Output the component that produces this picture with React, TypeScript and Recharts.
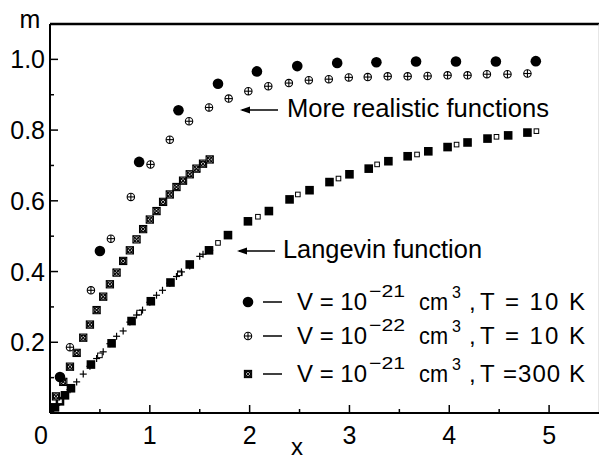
import React from "react";
import {
  ScatterChart,
  Scatter,
  XAxis,
  YAxis,
  ReferenceLine,
} from "recharts";

// V = 1e-21 cm3, T = 10 K (filled circles)
const circleX = [0.1, 0.5, 0.893, 1.287, 1.683, 2.073, 2.477, 2.877, 3.27, 3.667, 4.067, 4.467, 4.867];
const circleM = [0.102, 0.458, 0.71, 0.856, 0.931, 0.966, 0.981, 0.99, 0.992, 0.994, 0.994, 0.994, 0.995];

// V = 1e-22 cm3, T = 10 K (circle with plus)
const plusCircleX = [0.2, 0.41, 0.61, 0.81, 1.007, 1.2, 1.393, 1.593, 1.79, 1.987, 2.187, 2.393, 2.593, 2.793, 2.993, 3.183, 3.383, 3.583, 3.783, 3.983, 4.183, 4.377, 4.583, 4.783];
const plusCircleM = [0.186, 0.347, 0.493, 0.611, 0.703, 0.773, 0.825, 0.864, 0.889, 0.91, 0.924, 0.933, 0.941, 0.944, 0.949, 0.95, 0.952, 0.952, 0.953, 0.955, 0.955, 0.958, 0.958, 0.96];

// V = 1e-21 cm3, T = 300 K (crossed square)
const crossX = [0.06, 0.133, 0.2, 0.267, 0.333, 0.4, 0.467, 0.533, 0.6, 0.667, 0.733, 0.8, 0.867, 0.933, 1.0, 1.067, 1.133, 1.2, 1.267, 1.333, 1.4, 1.467, 1.533, 1.6];
const crossM = [0.047, 0.088, 0.131, 0.17, 0.213, 0.25, 0.291, 0.329, 0.364, 0.397, 0.43, 0.46, 0.491, 0.52, 0.547, 0.571, 0.597, 0.618, 0.639, 0.657, 0.675, 0.691, 0.705, 0.717];

// Langevin function points
const bigSqX = [0, 0.05, 0.1, 0.15, 0.21, 0.41, 0.617, 0.817, 1.01, 1.207, 1.4, 1.593, 1.783, 1.983, 2.193, 2.4, 2.6, 2.8, 3.0, 3.193, 3.39, 3.583, 3.79, 3.983, 4.183, 4.383, 4.59, 4.783];
const bigSqM = [0, 0.016, 0.033, 0.05, 0.07, 0.137, 0.197, 0.26, 0.316, 0.369, 0.42, 0.46, 0.503, 0.542, 0.571, 0.604, 0.63, 0.653, 0.675, 0.691, 0.712, 0.726, 0.74, 0.752, 0.765, 0.776, 0.785, 0.793];

const openSqX = [0.1, 0.5, 0.893, 1.3, 1.683, 2.083, 2.483, 2.89, 3.277, 3.677, 4.073, 4.473, 4.873];
const openSqM = [0.033, 0.163, 0.284, 0.395, 0.481, 0.555, 0.618, 0.663, 0.703, 0.731, 0.759, 0.781, 0.797];

const smallPlusX = [0.067, 0.133, 0.2, 0.267, 0.333, 0.4, 0.467, 0.533, 0.6, 0.667, 0.733, 0.8, 0.867, 0.927, 1.0, 1.067, 1.127, 1.2, 1.267, 1.317, 1.4, 1.5, 1.533, 1.6];
const smallPlusM = [0.022, 0.044, 0.066, 0.088, 0.11, 0.132, 0.154, 0.173, 0.196, 0.217, 0.232, 0.257, 0.277, 0.291, 0.313, 0.333, 0.347, 0.367, 0.386, 0.399, 0.416, 0.443, 0.449, 0.46];

const xTicks = [0, 0.5, 1, 1.5, 2, 2.5, 3, 3.5, 4, 4.5, 5];
const yTicks = [0.1, 0.2, 0.3, 0.4, 0.5, 0.6, 0.7, 0.8, 0.9, 1.0];

const zip = (xs: number[], ms: number[]) => xs.map((x, i) => ({ x, m: ms[i] }));

const FONT = "'Liberation Sans', Arial, Helvetica, sans-serif";

// eslint-disable-next-line @typescript-eslint/no-explicit-any
type P = any;

const FilledCircle = ({ cx, cy }: P) => <circle cx={cx} cy={cy} r={5.3} fill="#000" />;

const CirclePlus = ({ cx, cy }: P) => (
  <g stroke="#000" strokeWidth={1.1}>
    <circle cx={cx} cy={cy} r={3.7} fill="#fff" />
    <line x1={cx - 3.7} y1={cy} x2={cx + 3.7} y2={cy} />
    <line x1={cx} y1={cy - 3.7} x2={cx} y2={cy + 3.7} />
  </g>
);

const CrossSquare = ({ cx, cy }: P) => (
  <g stroke="#000" strokeWidth={1.1} fill="none">
    <rect x={cx - 3.6} y={cy - 3.6} width={7.2} height={7.2} fill="#fff" />
    <circle cx={cx} cy={cy} r={2.6} />
    <line x1={cx - 3.6} y1={cy - 3.6} x2={cx + 3.6} y2={cy + 3.6} />
    <line x1={cx + 3.6} y1={cy - 3.6} x2={cx - 3.6} y2={cy + 3.6} />
  </g>
);

const BigSquare = ({ cx, cy }: P) => (
  <rect x={cx - 4.3} y={cy - 4.3} width={8.6} height={8.6} fill="#000" />
);

const OpenSquare = ({ cx, cy }: P) => (
  <rect x={cx - 2.3} y={cy - 2.3} width={4.6} height={4.6} fill="#fff" stroke="#000" strokeWidth={1} />
);

const SmallPlus = ({ cx, cy }: P) => (
  <g stroke="#000" strokeWidth={1.2}>
    <line x1={cx - 3.5} y1={cy} x2={cx + 3.5} y2={cy} />
    <line x1={cx} y1={cy - 3.5} x2={cx} y2={cy + 3.5} />
  </g>
);

const XTick = ({ x, y, payload }: P) => {
  const v = payload.value as number;
  const major = Number.isInteger(v);
  return (
    <g>
      <line x1={x} y1={y} x2={x} y2={y - (major ? 8 : 4)} stroke="#000" strokeWidth={1.5} />
      {major && (
        <text x={x + (v === 0 ? -9 : 0)} y={y + 31} textAnchor="middle" fontSize={25} fontFamily={FONT} fill="#000">
          {v}
        </text>
      )}
    </g>
  );
};

const YTick = ({ x, y, payload }: P) => {
  const v = payload.value as number;
  const major = Math.round(v * 10) % 2 === 0;
  return (
    <g>
      <line x1={x} y1={y} x2={x + (major ? 8 : 4)} y2={y} stroke="#000" strokeWidth={1.5} />
      {major && (
        <text x={x - 5} y={y + 9} textAnchor="end" fontSize={25} fontFamily={FONT} fill="#000">
          {v.toFixed(1)}
        </text>
      )}
    </g>
  );
};

const LegendRow = ({ y, Marker, exp, tail }: P) => (
  <g fontFamily={FONT} fill="#000">
    <Marker cx={248} cy={y - 8} />
    <line x1={263} y1={y - 8} x2={282} y2={y - 8} stroke="#000" strokeWidth={1.5} />
    <text x={297} y={y} fontSize={24} textLength={70} lengthAdjust="spacingAndGlyphs">V = 10</text>
    <text x={369} y={y - 13} fontSize={17} textLength={36} lengthAdjust="spacingAndGlyphs">{exp}</text>
    <text x={419} y={y} fontSize={24} textLength={29} lengthAdjust="spacingAndGlyphs">cm</text>
    <text x={452} y={y - 12} fontSize={16}>3</text>
    <text x={469} y={y} fontSize={24}>,</text>
    <text x={480} y={y} fontSize={24} textLength={105} lengthAdjust="spacing">{tail}</text>
  </g>
);

const Overlay = () => (
  <svg width={599} height={459} style={{ position: "absolute", left: 0, top: 0, pointerEvents: "none" }}>
    <text x={30} y={28} textAnchor="middle" fontSize={25} fontFamily={FONT}>m</text>
    <text x={297} y={455} textAnchor="middle" fontSize={24} fontFamily={FONT}>x</text>
    {/* annotations */}
    <line x1={242} y1={110} x2={278} y2={110} stroke="#000" strokeWidth={1.5} />
    <path d="M240,110 L250,106.5 L250,113.5 Z" fill="#000" />
    <text x={287} y={117} fontSize={25} fontFamily={FONT} textLength={262} lengthAdjust="spacingAndGlyphs">
      More realistic functions
    </text>
    <line x1={239} y1={251} x2={275} y2={251} stroke="#000" strokeWidth={1.5} />
    <path d="M237,251 L247,247.5 L247,254.5 Z" fill="#000" />
    <text x={283} y={258} fontSize={25} fontFamily={FONT} textLength={199} lengthAdjust="spacingAndGlyphs">
      Langevin function
    </text>
    <LegendRow y={310} Marker={FilledCircle} exp="−21" tail="T = 10 K" />
    <LegendRow y={344} Marker={CirclePlus} exp="−22" tail="T = 10 K" />
    <LegendRow y={382} Marker={CrossSquare} exp="−21" tail="T =300 K" />
  </svg>
);

export default function App() {
  return (
    <div style={{ position: "absolute", left: 0, top: 0, width: 599, height: 459, background: "#fff" }}>
      <ScatterChart width={599} height={459} margin={{ top: 24, right: 0, left: 0, bottom: 0 }}>
        <XAxis
          type="number"
          dataKey="x"
          domain={[0, 5.5]}
          ticks={xTicks}
          tick={<XTick />}
          tickSize={0}
          tickMargin={0}
          tickLine={false}
          axisLine={{ stroke: "#000", strokeWidth: 2 }}
          height={46}
          allowDataOverflow
        />
        <YAxis
          type="number"
          dataKey="m"
          domain={[0, 1.1]}
          ticks={yTicks}
          tick={<YTick />}
          tickSize={0}
          tickMargin={0}
          tickLine={false}
          axisLine={{ stroke: "#000", strokeWidth: 2 }}
          width={50}
          allowDataOverflow
        />
        <ReferenceLine y={1.1} stroke="#000" strokeWidth={2.5} />
        <ReferenceLine x={5.5} stroke="#ccc" strokeWidth={1} />
        <Scatter data={zip(bigSqX, bigSqM)} shape={BigSquare} isAnimationActive={false} />
        <Scatter data={zip(openSqX, openSqM)} shape={OpenSquare} isAnimationActive={false} />
        <Scatter data={zip(smallPlusX, smallPlusM)} shape={SmallPlus} isAnimationActive={false} />
        <Scatter data={zip(crossX, crossM)} shape={CrossSquare} isAnimationActive={false} />
        <Scatter data={zip(plusCircleX, plusCircleM)} shape={CirclePlus} isAnimationActive={false} />
        <Scatter data={zip(circleX, circleM)} shape={FilledCircle} isAnimationActive={false} />
      </ScatterChart>
      <Overlay />
    </div>
  );
}
